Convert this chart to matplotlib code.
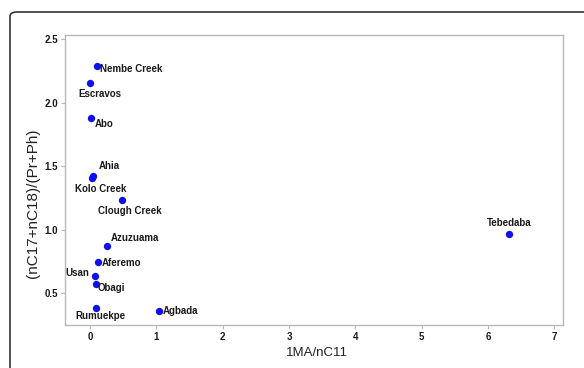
import matplotlib
matplotlib.use('Agg')
import matplotlib.pyplot as plt
from matplotlib.patches import FancyBboxPatch

names = ['Nembe Creek', 'Escravos', 'Abo', 'Ahia', 'Kolo Creek', 'Clough Creek',
         'Azuzuama', 'Aferemo', 'Usan', 'Obagi', 'Rumuekpe', 'Agbada', 'Tebedaba']
ma_nc11 = [0.10, 0.005, 0.02, 0.05, 0.035, 0.48, 0.25, 0.115, 0.07, 0.085, 0.085, 1.045, 6.32]
nc_ratio = [2.29, 2.153, 1.878, 1.424, 1.41, 1.235, 0.87, 0.749, 0.636, 0.573, 0.387, 0.36, 0.969]

# label offsets in pixels (dx, dy, ha)
offsets = {
    'Nembe Creek': (3, -3, 'left'),
    'Escravos': (10, -11, 'center'),
    'Abo': (3, -6, 'left'),
    'Ahia': (5, 10, 'left'),
    'Kolo Creek': (8, -11, 'center'),
    'Clough Creek': (8, -11, 'center'),
    'Azuzuama': (4, 8, 'left'),
    'Aferemo': (4, -1, 'left'),
    'Usan': (-5, 3, 'right'),
    'Obagi': (2, -4, 'left'),
    'Rumuekpe': (5, -8, 'center'),
    'Agbada': (3, 0, 'left'),
    'Tebedaba': (0, 11, 'center'),
}

plt.rcParams['font.family'] = ['Liberation Sans', 'DejaVu Sans']

fig = plt.figure(figsize=(5.84, 3.68), dpi=100)
ax = fig.add_axes([65 / 584, 1 - 325 / 368, 498 / 584, 290 / 368])

ax.scatter(ma_nc11, nc_ratio, s=28, color='#1010ee', zorder=3, linewidths=0)
px = 0.72  # points per pixel
for n, x, y in zip(names, ma_nc11, nc_ratio):
    dx, dy, ha = offsets[n]
    ax.annotate(n, (x, y), xytext=(dx * px, dy * px), textcoords='offset points',
                ha=ha, va='center', fontsize=7, fontweight='bold', color='#1a1a1a')

ax.set_xlim(-0.377, 7.13)
ax.set_ylim(0.25, 2.534)
ax.set_xticks(range(0, 8))
ax.set_yticks([0.5, 1.0, 1.5, 2.0, 2.5])
ax.set_yticklabels(['0.5', '1.0', '1.5', '2.0', '2.5'])
for s in ax.spines.values():
    s.set_color('#b8b8b8')
    s.set_linewidth(1)
ax.tick_params(length=3, color='#b8b8b8', labelsize=7, labelcolor='#1a1a1a', pad=2)
for lab in ax.get_xticklabels() + ax.get_yticklabels():
    lab.set_fontweight('bold')

ax.set_xlabel('1MA/nC11', fontsize=9.5, color='#222222')
ax.xaxis.set_label_coords(0.505, -0.076)
ax.set_ylabel('(nC17+nC18)/(Pr+Ph)', fontsize=11, color='#222222')
ax.yaxis.set_label_coords(-0.05, 0.42)

# outer frame (top and left edges, rounded corner)
frame = FancyBboxPatch((10 / 584, -0.2), 1.2, 1 - 12 / 368 + 0.2,
                       boxstyle='round,pad=0,rounding_size=0.012',
                       transform=fig.transFigure, fill=False,
                       edgecolor='#333333', linewidth=1.2, clip_on=False)
fig.patches.append(frame)

fig.savefig('out.png', dpi=100)
